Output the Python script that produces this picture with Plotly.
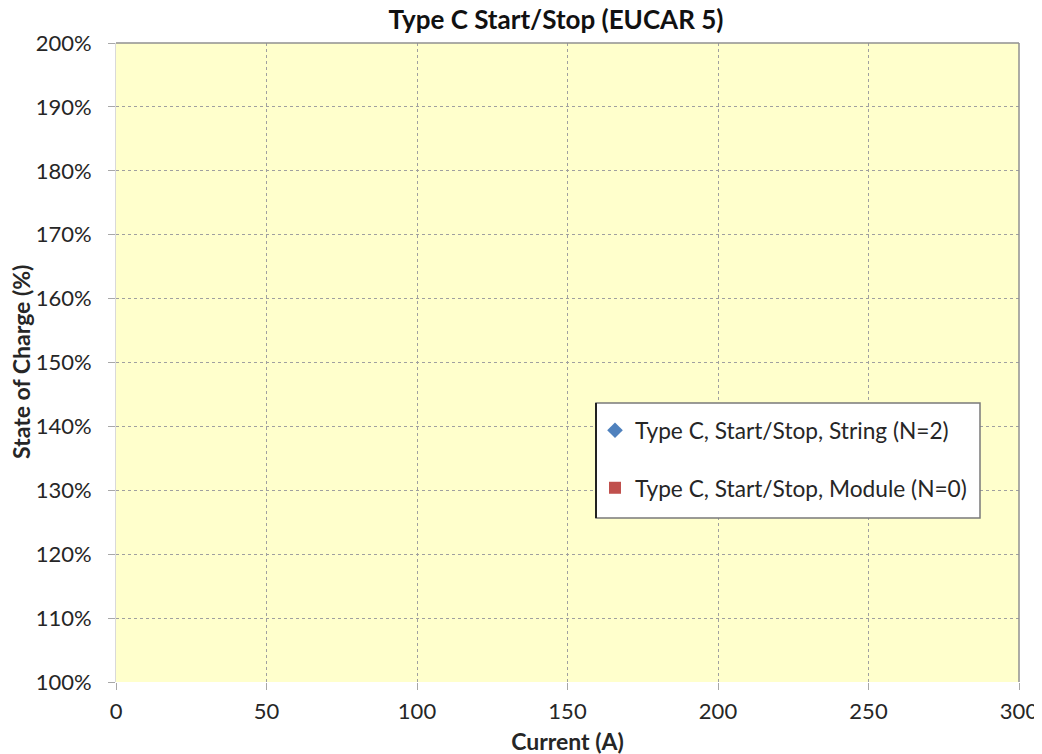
import plotly.graph_objects as go

# Data (no visible points in the reference)
series_names = ["Type C, Start/Stop, String (N=2)", "Type C, Start/Stop, Module (N=0)"]
string_current = []
string_soc = []
module_current = []
module_soc = []
x_ticks = [0, 50, 100, 150, 200, 250, 300]
y_ticks = [1.0, 1.1, 1.2, 1.3, 1.4, 1.5, 1.6, 1.7, 1.8, 1.9, 2.0]

FONT = "Lato, Carlito, 'Open Sans', sans-serif"

fig = go.Figure()
fig.add_trace(go.Scatter(
    x=string_current or [None], y=string_soc or [None], mode="markers",
    name=series_names[0], legendgroup="a",
    marker=dict(symbol="diamond", color="#4F81BD", size=13),
))
fig.add_trace(go.Scatter(
    x=module_current or [None], y=module_soc or [None], mode="markers",
    name=series_names[1], legendgroup="b",
    marker=dict(symbol="square", color="#C0504D", size=12),
))

# page body has an 8px margin: compensate
L, R, T, B = 108, 31, 35, 80
W, H = 1042, 754
pw, ph = W - L - R, H - T - B

def px_x(sx):  # screen x -> paper x
    return (sx - 8 - L) / pw

def px_y(sy):  # screen y -> paper y
    return (H - B - (sy - 8)) / ph

fig.update_layout(
    width=W, height=H,
    margin=dict(l=L, r=R, t=T, b=B),
    paper_bgcolor="white",
    plot_bgcolor="#FFFFCC",
    font=dict(family=FONT, size=22, color="#262626"),
    title=dict(text="<b>Type C Start/Stop (EUCAR 5)</b>", x=548 / W, xanchor="center",
               y=1 - 12 / H, yanchor="middle", font=dict(size=26, color="#111111")),
    xaxis=dict(
        range=[0, 300], tickvals=x_ticks, ticks="outside", ticklen=7, tickcolor="#A8A8A8",
        showgrid=True, gridcolor="#A0A0A0", griddash="3px,3px", gridwidth=1,
        zeroline=False, showline=False, automargin=False,
        tickfont=dict(size=22), ticklabelstandoff=3,
        title=dict(text="<b>Current (A)</b>", font=dict(size=23), standoff=10),
    ),
    yaxis=dict(
        range=[1.0, 2.0], tickvals=y_ticks, tickformat=".0%", ticks="outside", ticklen=7,
        tickcolor="#A8A8A8", showgrid=True, gridcolor="#A0A0A0", griddash="3px,3px", gridwidth=1,
        zeroline=False, showline=True, linecolor="#D9D9D9", automargin=False,
        tickfont=dict(size=22), ticklabelstandoff=12,
    ),
    legend=dict(
        x=px_x(595), y=px_y(409), xanchor="left", yanchor="top",
        bgcolor="rgba(0,0,0,0)", borderwidth=0,
        font=dict(size=22.7, color="#262626"),
        tracegroupgap=25, traceorder="grouped",
        entrywidth=355, entrywidthmode="pixels",
        itemsizing="constant",
    ),
    showlegend=True,
)

# Y-axis title placed explicitly
fig.add_annotation(text="<b>State of Charge (%)</b>", xref="paper", yref="paper",
                   x=px_x(21), y=px_y(362), xanchor="center", yanchor="middle",
                   textangle=-90, showarrow=False, font=dict(size=23, color="#262626"))

# Legend frame (white box, grey border, darker left edge)
fig.add_shape(type="rect", xref="paper", yref="paper",
              x0=px_x(596), x1=px_x(980), y0=px_y(518), y1=px_y(403),
              fillcolor="white", line=dict(color="#7A7A7A", width=1.5), layer="above")
fig.add_shape(type="line", xref="paper", yref="paper",
              x0=px_x(596), x1=px_x(596), y0=px_y(518), y1=px_y(403),
              line=dict(color="#222222", width=2), layer="above")

# Top and right solid borders of the plot area
fig.add_shape(type="line", xref="paper", yref="paper", x0=0, x1=1, y0=1, y1=1,
              line=dict(color="#909090", width=1.5))
fig.add_shape(type="line", xref="paper", yref="paper", x0=1, x1=1, y0=0, y1=1,
              line=dict(color="#909090", width=1.5))

fig.write_html("out.html")
